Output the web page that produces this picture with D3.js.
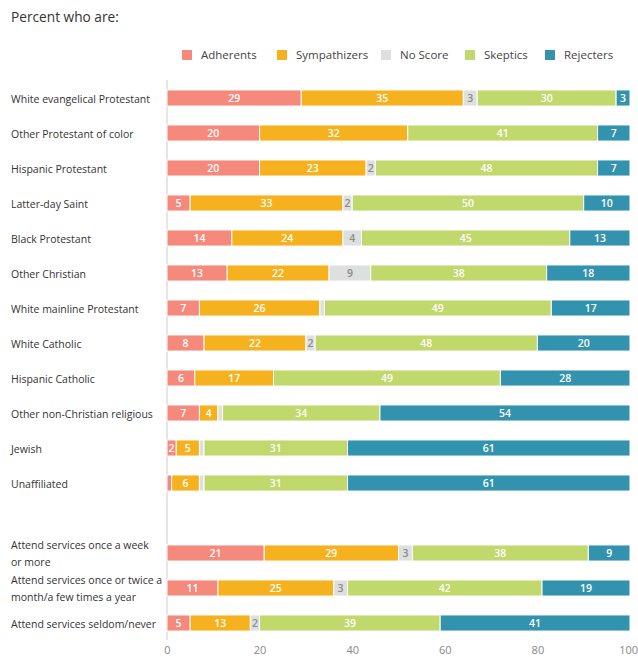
<!DOCTYPE html>
<html><head><meta charset="utf-8">
<script src="https://cdn.jsdelivr.net/npm/d3@7"></script>
<style>
body{margin:0;background:#fff;font-family:"Open Sans",sans-serif;}
</style></head>
<body><svg id="c" width="638" height="657"></svg>
<script>
const categories = ["White evangelical Protestant","Other Protestant of color","Hispanic Protestant","Latter-day Saint","Black Protestant","Other Christian","White mainline Protestant","White Catholic","Hispanic Catholic","Other non-Christian religious","Jewish","Unaffiliated","","Attend services once a week|or more","Attend services once or twice a|month/a few times a year","Attend services seldom/never"];
const seriesNames = ["Adherents","Sympathizers","No Score","Skeptics","Rejecters"];
const seriesColors = ["#f5897c","#f6b11e","#dedfdf","#c1d86c","#3393ae"];
const adherents    = [29,20,20,5,14,13,7,8,6,7,2,1,null,21,11,5];
const sympathizers = [35,32,23,33,24,22,26,22,17,4,5,6,null,29,25,13];
const noScore      = [3,0,2,2,4,9,1,2,0,1,1,1,null,3,3,2];
const skeptics     = [30,41,48,50,45,38,49,48,49,34,31,31,null,38,42,39];
const rejecters    = [3,7,7,10,13,18,17,20,28,54,61,61,null,9,19,41];
const xTicks = [0,20,40,60,80,100];

const series = [adherents,sympathizers,noScore,skeptics,rejecters];
const svg = d3.select("#c");
const x = d3.scaleLinear().domain([0,100]).range([167,630]);
const y = d3.scaleBand().domain(categories.map((c,i)=>i)).range([80.5,640.5]).paddingInner(0.54).paddingOuter(0.27);

svg.append("text").attr("x",11).attr("y",22).attr("font-size",13.7).attr("fill","#333").text("Percent who are:");

// legend
const legendX = [182,277,381,465,545];
seriesNames.forEach((n,i)=>{
  svg.append("rect").attr("x",legendX[i]).attr("y",50).attr("width",10).attr("height",10).attr("fill",seriesColors[i]);
  svg.append("text").attr("x",legendX[i]+19).attr("y",59).attr("font-size",11.5).attr("fill","#444").text(n);
});

// axis line
svg.append("line").attr("x1",x(0)).attr("x2",x(0)).attr("y1",80).attr("y2",640).attr("stroke","#ccc").attr("stroke-width",1);

// axis ticks
const ax = svg.append("g").attr("transform","translate(0,641)").call(d3.axisBottom(x).tickValues(xTicks).tickSize(0).tickPadding(0));
ax.select(".domain").remove();
ax.selectAll("text").attr("dy",null).attr("y",13).attr("font-family","Open Sans").attr("font-size",11).attr("fill","#888")
  .attr("dx",d=>d===100?-1.8:0);

// category labels
categories.forEach((c,i)=>{
  if(!c) return;
  const lines = c.split("|");
  const cy = y(i)+y.bandwidth()/2;
  const t = svg.append("text").attr("x",11).attr("font-size",10.5).attr("fill","#333");
  const lh = 17;
  lines.forEach((l,j)=>{
    t.append("tspan").attr("x",11).attr("y",cy + 4.5 + (j-(lines.length-1)/2)*lh).text(l);
  });
});

// bars
categories.forEach((c,i)=>{
  if(!c) return;
  let cum = 0;
  series.forEach((s,k)=>{
    const v = s[i];
    if(v>0){
      const x0 = x(cum), x1 = x(cum+v);
      svg.append("rect").attr("x",x0).attr("y",y(i)).attr("width",x1-x0).attr("height",y.bandwidth())
        .attr("fill",seriesColors[k]).attr("stroke","#fff").attr("stroke-width",1);
      if(v>=2){
        svg.append("text").attr("x",(x0+x1)/2).attr("y",y(i)+y.bandwidth()/2+4)
          .attr("text-anchor","middle").attr("font-size",10.5).attr("font-weight",600)
          .attr("fill",k===2?"#8a8a8a":"#fff").text(v);
      }
    }
    cum += v;
  });
});
</script></body></html>
